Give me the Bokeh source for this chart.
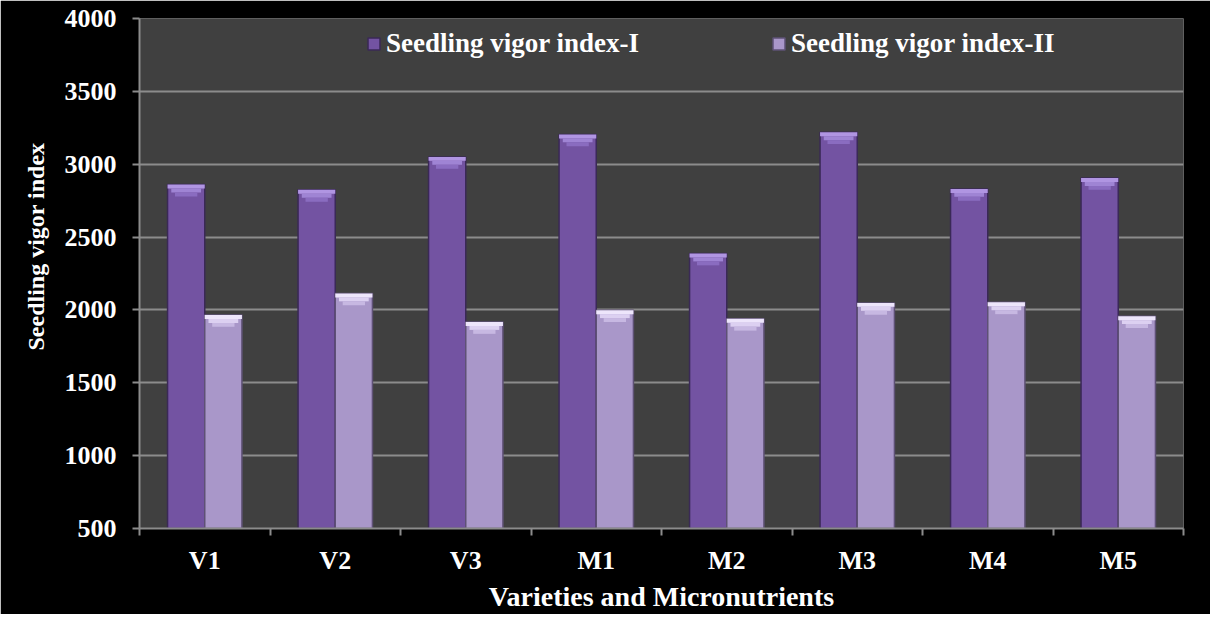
from bokeh.plotting import figure
from bokeh.models import (ColumnDataSource, FactorRange, Range1d, LinearAxis, CategoricalAxis,
                          FixedTicker, Legend, LegendItem, Title)
from bokeh.transform import dodge
from bokeh.embed import file_html
from bokeh.resources import INLINE

# ---- data ----
categories = ["V1", "V2", "V3", "M1", "M2", "M3", "M4", "M5"]
svi_1 = [2860, 2824, 3050, 3204, 2387, 3219, 2830, 2905]
svi_2 = [1965, 2113, 1917, 1998, 1939, 2048, 2052, 1957]
y_ticks = [500, 1000, 1500, 2000, 2500, 3000, 3500, 4000]
series_names = ["Seedling vigor index-I", "Seedling vigor index-II"]

FONT = "Liberation Serif"
GRID = "#8c8c8c"
# bevel step depths below the bar top (data units, ~4px each)
STEP = [0, 27, 54, 81]

src = ColumnDataSource(dict(
    cat=categories,
    s1=svi_1, s2=svi_2,
    s1_a=[v - STEP[1] for v in svi_1], s1_b=[v - STEP[2] for v in svi_1], s1_c=[v - STEP[3] for v in svi_1],
    s2_a=[v - STEP[1] for v in svi_2], s2_b=[v - STEP[2] for v in svi_2], s2_c=[v - STEP[3] for v in svi_2],
))

p = figure(x_range=FactorRange(*categories), y_range=Range1d(500, 4000),
           width=1210, height=614, output_backend="svg", toolbar_location=None,
           x_axis_location=None,
           background_fill_color="#404040", border_fill_color="#000000",
           min_border_left=139, min_border_right=27, min_border_top=18, min_border_bottom=79)
p.outline_line_color = None

# boundary ticks between categories (synthetic category coordinates 0..n)
tick_axis = LinearAxis(ticker=FixedTicker(ticks=list(range(len(categories) + 1))),
                       major_label_text_font_size="0px", major_label_standoff=0,
                       major_label_text_color=None,
                       major_tick_out=7, major_tick_in=0, minor_tick_line_color=None,
                       axis_line_color=GRID, axis_line_width=2,
                       major_tick_line_color=GRID, major_tick_line_width=2)
p.add_layout(tick_axis, "below")

cat_axis = CategoricalAxis(axis_line_color=None, major_tick_line_color=None,
                           major_tick_out=0, major_tick_in=0,
                           major_label_standoff=10,
                           major_label_text_font=FONT, major_label_text_font_style="bold",
                           major_label_text_font_size="26px", major_label_text_color="white",
                           axis_label="Varieties and Micronutrients",
                           axis_label_text_font=FONT, axis_label_text_font_style="bold",
                           axis_label_text_font_size="28px", axis_label_text_color="white",
                           axis_label_standoff=3)
p.add_layout(cat_axis, "below")

# y axis
yax = p.yaxis[0]
yax.ticker = FixedTicker(ticks=y_ticks)
yax.minor_tick_line_color = None
yax.major_tick_out = 7
yax.major_tick_in = 0
yax.major_tick_line_color = GRID
yax.major_tick_line_width = 2
yax.axis_line_color = GRID
yax.axis_line_width = 2
yax.major_label_standoff = 16
yax.major_label_text_font = FONT
yax.major_label_text_font_style = "bold"
yax.major_label_text_font_size = "26px"
yax.major_label_text_color = "white"

ytitle = Title(text="Seedling vigor index", align="left", offset=178, standoff=26,
               text_font=FONT, text_font_style="bold", text_font_size="24px",
               text_color="white")
p.add_layout(ytitle, "left")

p.xgrid.visible = False
p.ygrid.grid_line_color = GRID
p.ygrid.grid_line_width = 2
p.ygrid.ticker = FixedTicker(ticks=y_ticks)

W = 0.285
x1 = dodge("cat", -W / 2, range=p.x_range)
x2 = dodge("cat", W / 2, range=p.x_range)

r1 = p.vbar(x=x1, top="s1", bottom=0, width=W, source=src,
            fill_color="#7353a2", line_color="#3a2956", line_width=1.5)
r2 = p.vbar(x=x2, top="s2", bottom=0, width=W, source=src,
            fill_color="#a997c9", line_color="#5e5175", line_width=1.5)

# bevelled tops drawn as a stepped trapezoid
def bevel(x, top, a, b, c, cols):
    p.vbar(x=x, top=top, bottom=a, width=W, source=src, fill_color=cols[0], line_color=None)
    p.vbar(x=x, top=a, bottom=b, width=W * 0.8, source=src, fill_color=cols[1], line_color=None)
    p.vbar(x=x, top=b, bottom=c, width=W * 0.6, source=src, fill_color=cols[2], line_color=None)

bevel(x1, "s1", "s1_a", "s1_b", "s1_c", ["#b095e2", "#9f84d4", "#8a6cc0"])
bevel(x2, "s2", "s2_a", "s2_b", "s2_c", ["#ede5fb", "#dcd0f1", "#c7b8e2"])

legend = Legend(items=[LegendItem(label=series_names[0], renderers=[r1]),
                       LegendItem(label=series_names[1], renderers=[r2])],
                orientation="horizontal", location=(227, 469),
                background_fill_alpha=0, border_line_color=None,
                label_text_color="white", label_text_font=FONT,
                label_text_font_style="bold", label_text_font_size="27px",
                glyph_width=15, glyph_height=15, label_standoff=5,
                spacing=132, padding=0, margin=0, label_height=30)
p.add_layout(legend)

open("out.html", "w").write(file_html(p, INLINE))
